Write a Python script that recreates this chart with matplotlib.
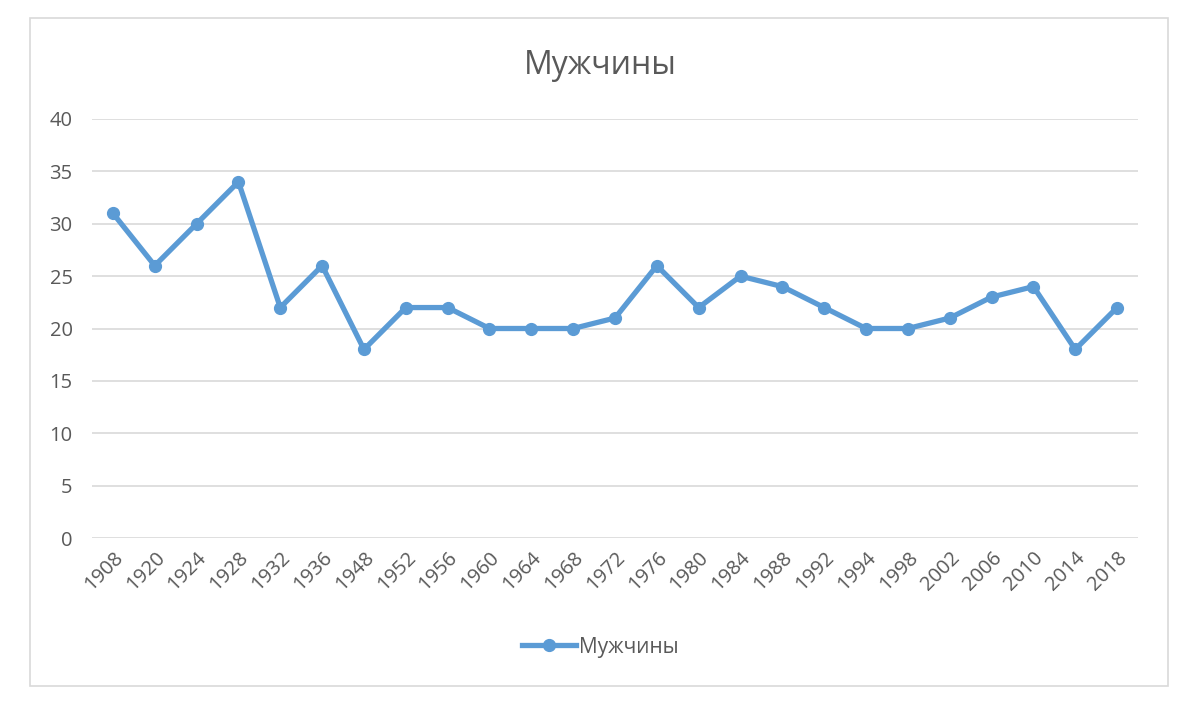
import matplotlib
matplotlib.use("Agg")
import matplotlib.pyplot as plt
from matplotlib.patches import Rectangle

years = ["1908", "1920", "1924", "1928", "1932", "1936", "1948", "1952", "1956",
         "1960", "1964", "1968", "1972", "1976", "1980", "1984", "1988", "1992",
         "1994", "1998", "2002", "2006", "2010", "2014", "2018"]
men = [31, 26, 30, 34, 22, 26, 18, 22, 22, 20, 20, 20, 21, 26, 22, 25, 24, 22,
       20, 20, 21, 23, 24, 18, 22]
yticks = [0, 5, 10, 15, 20, 25, 30, 35, 40]

BLUE, GRID, TXT = "#5B9BD5", "#D9D9D9", "#595959"
plt.rcParams["font.family"] = ["Open Sans", "DejaVu Sans"]

fig = plt.figure(figsize=(12, 7.22), dpi=100)
fig.patches.append(Rectangle((30 / 1200, 1 - 686 / 722), 1138 / 1200, 668 / 722,
                             transform=fig.transFigure, fill=False, ec=GRID, lw=1.2))
ax = fig.add_axes([92 / 1200, 1 - 538 / 722, 1046 / 1200, 419 / 722])

x = list(range(len(years)))
ax.plot(x, men, "-o", color=BLUE, lw=3.8, ms=8.5, label="Мужчины")
ax.set_xlim(-0.5, len(years) - 0.5)
ax.set_ylim(0, 40)
ax.set_yticks(yticks)
ax.set_xticks(x)
ax.set_xticklabels(years, rotation=45, ha="right", rotation_mode="anchor")
ax.tick_params(axis="both", length=0, labelsize=14.5, colors=TXT)
ax.tick_params(axis="y", pad=14)
ax.tick_params(axis="x", pad=7)
ax.grid(axis="y", color=GRID, lw=1.2)
ax.set_axisbelow(True)
for s in ax.spines.values():
    s.set_visible(False)

fig.text(0.5, 1 - 65 / 722, "Мужчины", ha="center", va="center", fontsize=23, color=TXT)
fig.legend(loc="center", bbox_to_anchor=(0.5, 1 - 647 / 722), frameon=False,
           fontsize=15, labelcolor=TXT, handlelength=2.6, handletextpad=0.15)

fig.savefig("out.png")
